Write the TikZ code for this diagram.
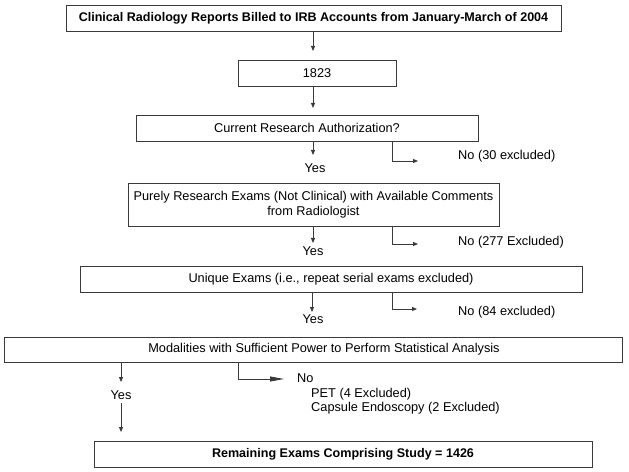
\documentclass[tikz,border=0pt]{standalone}
\usepackage{fontspec}
\setmainfont{Liberation Sans}
\usetikzlibrary{arrows.meta}
\definecolor{linegray}{HTML}{3A3A3A}
\begin{document}
\begin{tikzpicture}[x=1bp,y=-1bp,
  txt/.style={font=\fontsize{12.8}{15}\selectfont},
  boldtxt/.style={font=\fontsize{12.6}{15}\selectfont\bfseries},
  box/.style={draw=linegray, line width=0.8bp, minimum height=26bp, inner sep=0pt, align=center, txt},
  lbl/.style={inner sep=0pt, txt},
  arr/.style={draw=linegray, line width=0.8bp, -{Triangle[length=5bp,width=4bp]}},
  bigarr/.style={draw=linegray, line width=0.8bp, -{Triangle[length=14bp,width=5bp]}}]
\useasboundingbox[fill=white] (0,0) rectangle (629,472);

% boxes
\node[box, boldtxt, minimum width=495bp] (b1) at (313.5,18) {Clinical Radiology Reports Billed to IRB Accounts from January-March of 2004};
\node[box, minimum width=158bp] (b2) at (317,73) {1823};
\node[box, minimum width=342bp] (b3) at (307,128) {Current Research Authorization?};
\node[box, minimum width=371bp, minimum height=43bp] (b4) at (313.5,204.5) {Purely Research Exams (Not Clinical) with Available Comments\\from Radiologist};
\node[box, minimum width=502bp] (b5) at (331,279) {Unique Exams (i.e., repeat serial exams excluded)};
\node[box, minimum width=618bp, minimum height=25bp] (b6) at (313,349.5) {\hspace*{22bp}Modalities with Sufficient Power to Perform Statistical Analysis};
\node[box, boldtxt, minimum width=498bp] (b7) at (343,454) {Remaining Exams Comprising Study = 1426};

% labels
\node[lbl, anchor=base] (y1) at (315,172.3) {Yes};
\node[lbl, anchor=base] (y2) at (313,256) {Yes};
\node[lbl, anchor=base] (y3) at (313,323.3) {Yes};
\node[lbl, anchor=base] (y4) at (121,399.3) {Yes};
\node[lbl, anchor=base west] (n1) at (458,160) {No (30 excluded)};
\node[lbl, anchor=base west] (n2) at (458,246) {No (277 Excluded)};
\node[lbl, anchor=base west] (n3) at (458,315) {No (84 excluded)};
\node[lbl, anchor=base west] (n4) at (297,382) {No};
\node[lbl, anchor=base west] (n5) at (311,397) {PET (4 Excluded)};
\node[lbl, anchor=base west] (n6) at (311,411) {Capsule Endoscopy (2 Excluded)};

% arrow tips
\coordinate (t1) at (313,51);
\coordinate (t2) at (313,108);
\coordinate (t3) at (313,155);
\coordinate (t4) at (313,243);
\coordinate (t5) at (312,312);
\coordinate (t6) at (121,382);
\coordinate (t7) at (121,432);
\coordinate (s7) at (121,403);
\coordinate (r1) at (392,0);
\coordinate (r4) at (238,0);
\coordinate (e1) at (418,161);
\coordinate (e2) at (418,244);
\coordinate (e3) at (417,309);
\coordinate (e4) at (284,379);

% main arrows
\draw[arr] (b1.south -| t1) -- (t1);
\draw[arr] (b2.south -| t2) -- (t2);
\draw[arr] (b3.south -| t3) -- (t3);
\draw[arr] (b4.south -| t4) -- (t4);
\draw[arr] (b5.south -| t5) -- (t5);
\draw[arr] (b6.south -| t6) -- (t6);
\draw[arr] (s7) -- (t7);

% branches
\draw[arr] (b3.south -| r1) |- (e1);
\draw[arr] (b4.south -| r1) |- (e2);
\draw[arr] (b5.south -| r1) |- (e3);
\draw[bigarr] (b6.south -| r4) |- (e4);
\end{tikzpicture}
\end{document}
